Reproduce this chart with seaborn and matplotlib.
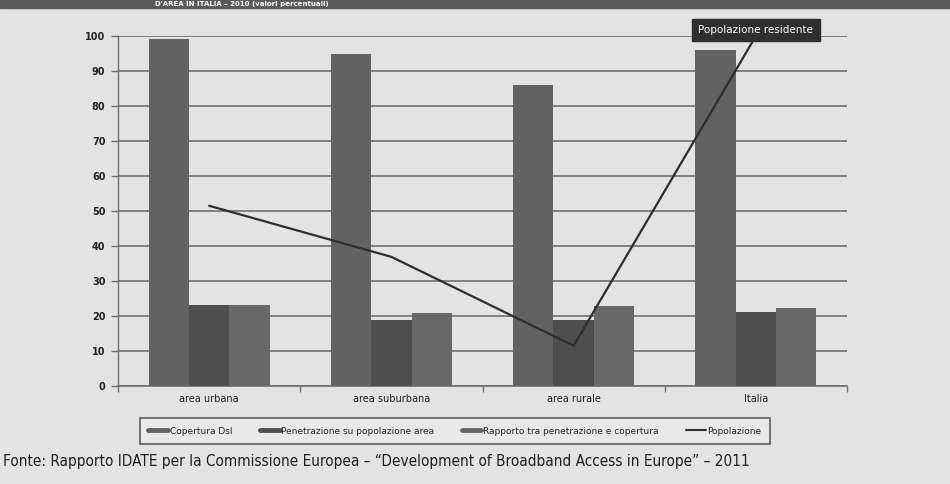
import matplotlib
matplotlib.use("Agg")
import matplotlib.pyplot as plt
import seaborn as sns
import pandas as pd
import numpy as np
from matplotlib.lines import Line2D

categories = ["area urbana", "area suburbana", "area rurale", "Italia"]
copertura = [99.1, 94.8, 86.1, 95.9]
penetrazione = [23.1, 19.0, 19.0, 21.1]
rapporto = [23.1, 21.0, 22.9, 22.3]
popolazione = [51.5, 36.9, 11.5, 100.0]
series_names = ["Copertura Dsl", "Penetrazione su popolazione area",
                "Rapporto tra penetrazione e copertura"]
line_name = "Popolazione"
yticks = [0, 10, 20, 30, 40, 50, 60, 70, 80, 90, 100]

bar_colors = ["#626262", "#4e4e4e", "#686868"]
line_color = "#2e2e2e"
bg = "#e3e3e3"

df = pd.DataFrame({
    "categoria": categories * 3,
    "serie": sum([[s] * len(categories) for s in series_names], []),
    "valore": copertura + penetrazione + rapporto,
})

sns.set_theme(style="white")
plt.rcParams["font.family"] = ["DejaVu Sans"]

fig = plt.figure(figsize=(9.5, 4.84), dpi=100, facecolor=bg)
ax = fig.add_axes([118 / 950, 1 - 386 / 484, (847 - 118) / 950, (386 - 36) / 484])
ax.set_facecolor(bg)

sns.barplot(data=df, x="categoria", y="valore", hue="serie", order=categories,
            hue_order=series_names, palette=bar_colors, width=0.665,
            saturation=1, ax=ax, legend=False, zorder=3, linewidth=0)

sns.pointplot(x=categories, y=popolazione, order=categories, color=line_color,
              markers="", linestyles="-", linewidth=1.6, ax=ax, zorder=5,
              errorbar=None)

ax.set_ylim(0, 100)
ax.set_xlim(-0.5, 3.5)
ax.set_yticks(yticks)
ax.set_yticklabels([str(t) for t in yticks], fontsize=7, color="#222222",
                   fontweight="bold")
ax.yaxis.grid(True, color="#6f6f6f", linewidth=1.2, zorder=0)
ax.set_axisbelow(True)
ax.tick_params(axis="y", which="both", left=True, length=5, width=1.0,
               color="#6f6f6f", pad=4)
ax.set_xticks(range(len(categories)))
ax.set_xticklabels(categories, fontsize=7, color="#222222")
ax.tick_params(axis="x", length=0, pad=6)
ax.set_xticks(np.arange(-0.5, 4, 1.0), minor=True)
ax.tick_params(axis="x", which="minor", bottom=True, length=4, width=1.0,
               color="#6f6f6f")
ax.set_xlabel("")
ax.set_ylabel("")
for s in ["top", "right"]:
    ax.spines[s].set_visible(False)
ax.spines["left"].set_color("#6f6f6f")
ax.spines["bottom"].set_color("#6f6f6f")
ax.spines["left"].set_linewidth(1.0)
ax.spines["bottom"].set_linewidth(1.2)

ax.annotate("Popolazione residente", xy=(3, popolazione[3]), xytext=(0, 4.5),
            textcoords="offset points", ha="center", va="center",
            fontsize=7.5, color="white", annotation_clip=False, zorder=10,
            bbox=dict(boxstyle="square,pad=0.6", fc="#2f2f2f", ec="#2f2f2f"))

handles = [Line2D([0], [0], color=c, lw=3.5) for c in bar_colors]
handles.append(Line2D([0], [0], color=line_color, lw=1.5))
leg = fig.legend(handles, series_names + [line_name], loc="center",
                 bbox_to_anchor=(455 / 950, 1 - 431 / 484), ncol=4,
                 fontsize=6.5, frameon=True, fancybox=False,
                 handlelength=2.2, handletextpad=0.2, columnspacing=3.0,
                 borderpad=0.9)
leg.get_frame().set_edgecolor("#3a3a3a")
leg.get_frame().set_facecolor("#ebebeb")
leg.get_frame().set_linewidth(1.2)

# title band at top (small, fully inside the band)
fig.patches.append(plt.Rectangle((0, 1 - 8 / 484), 1, 8 / 484,
                                 transform=fig.transFigure, color="#5a5a5a",
                                 zorder=0))
fig.text(155 / 950, 1 - 4 / 484,
         "D'AREA IN ITALIA – 2010 (valori percentuali)", fontsize=5,
         fontweight="bold", color="white", va="center", ha="left")

fig.text(3 / 950, 1 - 466 / 484,
         "Fonte: Rapporto IDATE per la Commissione Europea – “Development of "
         "Broadband Access in Europe” – 2011",
         fontsize=11, color="#1e1e1e", va="baseline", ha="left",
         fontstretch="condensed")

fig.savefig("out.png", dpi=100, facecolor=bg)
